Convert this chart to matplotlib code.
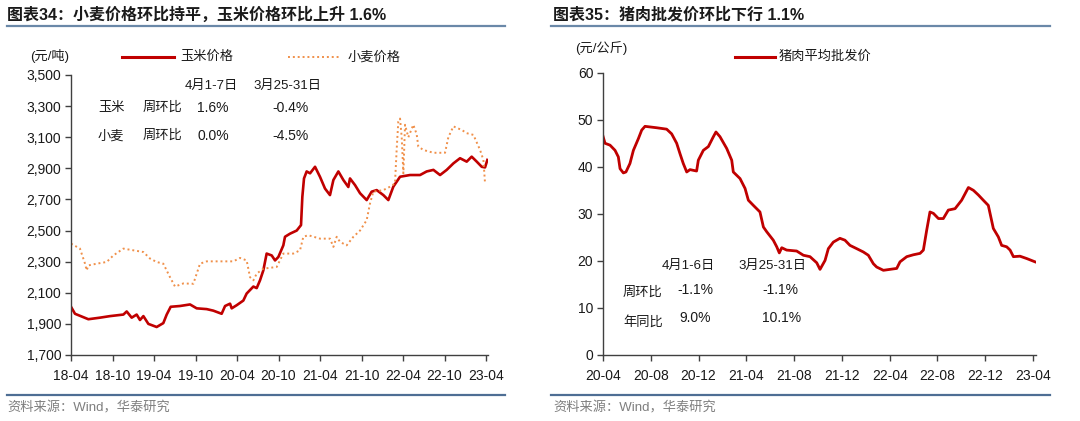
import matplotlib
matplotlib.use("Agg")
import matplotlib.pyplot as plt
from matplotlib.lines import Line2D

plt.rcParams['font.family'] = ['Liberation Sans', 'Noto Sans CJK SC', 'DejaVu Sans']
CJK = ['Liberation Sans', 'Noto Sans CJK SC', 'DejaVu Sans']

# ---------------- data: left chart (corn / wheat, 元/吨) ----------------
corn_t = [2018.250, 2018.298, 2018.459, 2018.599, 2018.720, 2018.881, 2018.921, 2018.981,
          2019.041, 2019.081, 2019.122, 2019.182, 2019.282, 2019.362, 2019.403, 2019.451,
          2019.563, 2019.684, 2019.764, 2019.885, 2019.965, 2020.065, 2020.106, 2020.166,
          2020.186, 2020.246, 2020.326, 2020.366, 2020.447, 2020.487, 2020.527, 2020.567,
          2020.607, 2020.668, 2020.708, 2020.748, 2020.808, 2020.828, 2020.889, 2020.969,
          2021.021, 2021.037, 2021.057, 2021.089, 2021.130, 2021.190, 2021.250, 2021.310,
          2021.370, 2021.411, 2021.471, 2021.531, 2021.591, 2021.611, 2021.672, 2021.732,
          2021.812, 2021.872, 2021.933, 2022.013, 2022.073, 2022.133, 2022.214, 2022.334,
          2022.455, 2022.535, 2022.616, 2022.696, 2022.776, 2022.857, 2022.937, 2023.017,
          2023.077, 2023.138, 2023.198, 2023.238, 2023.266]
corn_v = [2010, 1965, 1930, 1940, 1950, 1960, 1980, 1940,
          1960, 1925, 1950, 1900, 1880, 1905, 1960, 2010,
          2015, 2025, 2000, 1995, 1985, 1965, 2015, 2030,
          2000, 2020, 2050, 2095, 2140, 2130, 2180, 2244,
          2352, 2340, 2308, 2330, 2405, 2460, 2480, 2500,
          2535, 2717, 2835, 2880, 2868, 2910, 2845, 2770,
          2728, 2825, 2880, 2825, 2780, 2835, 2792, 2740,
          2696, 2750, 2760, 2728, 2696, 2782, 2846, 2857,
          2857, 2880, 2890, 2857, 2890, 2932, 2965, 2943,
          2975, 2943, 2910, 2906, 2954]

wheat_t = [2018.250, 2018.358, 2018.419, 2018.439, 2018.459, 2018.559, 2018.680, 2018.760,
           2018.881, 2019.001, 2019.122, 2019.202, 2019.282, 2019.362, 2019.443, 2019.503,
           2019.603, 2019.724, 2019.804, 2019.885, 2020.206, 2020.286, 2020.366, 2020.407,
           2020.447, 2020.487, 2020.567, 2020.728, 2020.808, 2020.928, 2021.009, 2021.049,
           2021.109, 2021.250, 2021.370, 2021.411, 2021.451, 2021.491, 2021.571, 2021.652,
           2021.732, 2021.812, 2021.852, 2021.892, 2022.013, 2022.093, 2022.153, 2022.173,
           2022.193, 2022.214, 2022.234, 2022.254, 2022.274, 2022.314, 2022.374, 2022.414,
           2022.434, 2022.495, 2022.616, 2022.756, 2022.796, 2022.857, 2022.897, 2022.957,
           2023.017, 2023.098, 2023.178, 2023.218, 2023.238]
wheat_v = [2416, 2384, 2287, 2244, 2276, 2287, 2298, 2340,
           2384, 2373, 2362, 2320, 2298, 2287, 2200, 2140,
           2160, 2158, 2287, 2302, 2302, 2324, 2308, 2200,
           2180, 2223, 2255, 2266, 2352, 2352, 2373, 2460,
           2470, 2448, 2448, 2395, 2460, 2427, 2405, 2460,
           2500, 2567, 2674, 2750, 2760, 2782, 2803, 3018,
           3200, 3220, 3100, 2868, 3180, 3100, 3180, 3120,
           3040, 3018, 3000, 3000, 3100, 3170, 3160, 3147,
           3126, 3115, 3018, 2954, 2803]

left_xticks = [2018.25, 2018.75, 2019.25, 2019.75, 2020.25, 2020.75,
               2021.25, 2021.75, 2022.25, 2022.75, 2023.25]
left_xlabels = ['18-04', '18-10', '19-04', '19-10', '20-04', '20-10',
                '21-04', '21-10', '22-04', '22-10', '23-04']
left_yticks = [1700, 1900, 2100, 2300, 2500, 2700, 2900, 3100, 3300, 3500]

# ---------------- data: right chart (pork, 元/公斤) ----------------
pork_t = [2020.250, 2020.264, 2020.299, 2020.334, 2020.357, 2020.369, 2020.392, 2020.410,
          2020.438, 2020.462, 2020.497, 2020.520, 2020.543, 2020.624, 2020.694, 2020.729,
          2020.764, 2020.787, 2020.810, 2020.834, 2020.857, 2020.903, 2020.915, 2020.950,
          2020.985, 2021.020, 2021.038, 2021.066, 2021.113, 2021.148, 2021.159, 2021.206,
          2021.241, 2021.264, 2021.299, 2021.345, 2021.369, 2021.392, 2021.438, 2021.462,
          2021.480, 2021.497, 2021.531, 2021.601, 2021.648, 2021.694, 2021.741, 2021.764,
          2021.799, 2021.822, 2021.857, 2021.903, 2021.938, 2021.973, 2022.020, 2022.066,
          2022.101, 2022.136, 2022.159, 2022.206, 2022.252, 2022.299, 2022.322, 2022.369,
          2022.415, 2022.462, 2022.485, 2022.508, 2022.531, 2022.555, 2022.590, 2022.624,
          2022.659, 2022.706, 2022.752, 2022.799, 2022.834, 2022.869, 2022.903, 2022.938,
          2022.973, 2023.008, 2023.031, 2023.066, 2023.090, 2023.113, 2023.159, 2023.206,
          2023.264]
pork_v = [46.5, 45.0, 44.6, 43.5, 42.1, 39.6, 38.7, 38.9,
          40.7, 43.5, 46.0, 47.8, 48.6, 48.3, 48.0, 47.0,
          45.0, 42.8, 40.7, 38.9, 39.4, 39.1, 41.4, 43.5,
          44.3, 46.4, 47.4, 46.4, 43.9, 41.4, 38.9, 37.5,
          35.4, 32.9, 31.8, 30.4, 27.2, 26.2, 24.4, 23.0,
          21.7, 22.8, 22.3, 22.1, 21.2, 20.9, 19.6, 18.2,
          20.1, 22.6, 24.0, 24.8, 24.4, 23.3, 22.6, 21.9,
          21.2, 19.4, 18.7, 18.0, 18.2, 18.4, 19.8, 20.9,
          21.3, 21.6, 22.3, 26.5, 30.4, 30.1, 29.0, 29.0,
          30.8, 31.1, 32.9, 35.6, 35.0, 34.0, 32.9, 31.8,
          26.9, 25.1, 23.3, 23.0, 22.3, 20.9, 21.0, 20.5,
          19.8]

right_xticks = [2020.25, 2020.5833, 2020.9167, 2021.25, 2021.5833, 2021.9167,
                2022.25, 2022.5833, 2022.9167, 2023.25]
right_xlabels = ['20-04', '20-08', '20-12', '21-04', '21-08', '21-12',
                 '22-04', '22-08', '22-12', '23-04']
right_yticks = [0, 10, 20, 30, 40, 50, 60]

# ---------------- styling ----------------
W, H = 1080, 421
RED = '#C00000'
ORANGE = '#F0904A'
RULE = '#4E6E94'
GRAY = '#7F7F7F'
TXT = '#1A1A1A'

fig = plt.figure(figsize=(W / 100, H / 100), dpi=100)


def fx(px):
    return px / W


def fy(py):
    return 1 - py / H


def style_axes(ax):
    for s in ('top', 'right'):
        ax.spines[s].set_visible(False)
    for s in ('left', 'bottom'):
        ax.spines[s].set_color('#404040')
        ax.spines[s].set_linewidth(1.0)
    ax.tick_params(direction='out', length=4, width=1.0, color='#404040',
                   labelsize=10, labelcolor=TXT, pad=3)


# left axes
axL = fig.add_axes([fx(71), fy(355), fx(487.7) - fx(71), fy(75) - fy(355)])
axL.plot(corn_t, corn_v, color=RED, lw=1.9, solid_joinstyle='round')
axL.plot(wheat_t, wheat_v, color=ORANGE, lw=1.4, linestyle=(0, (1, 1.5)))
axL.set_xlim(2018.25, 2023.27)
axL.set_ylim(1700, 3500)
axL.set_xticks(left_xticks)
axL.set_xticklabels(left_xlabels)
axL.set_yticks(left_yticks)
axL.set_yticklabels([f'{v:,}' for v in left_yticks])
style_axes(axL)
axL.tick_params(axis='x', pad=6)

# right axes
axR = fig.add_axes([fx(603), fy(355), fx(1035.9) - fx(603), fy(72.7) - fy(355)])
axR.plot(pork_t, pork_v, color=RED, lw=2.0)
axR.set_xlim(2020.25, 2023.27)
axR.set_ylim(0, 60)
axR.set_xticks(right_xticks)
axR.set_xticklabels(right_xlabels)
axR.set_yticks(right_yticks)
style_axes(axR)
axR.tick_params(axis='x', pad=6)

# titles and rules
fig.text(fx(7), fy(15), '图表34：小麦价格环比持平，玉米价格环比上升 1.6%', family=CJK,
         fontsize=11.5, fontweight='bold', va='center', ha='left', color=TXT)
fig.text(fx(553), fy(15), '图表35：猪肉批发价环比下行 1.1%', family=CJK,
         fontsize=11.5, fontweight='bold', va='center', ha='left', color=TXT)
for x0, x1 in ((7, 505), (551, 1050)):
    fig.add_artist(Line2D([fx(x0), fx(x1)], [fy(26), fy(26)], color='#6A88A8', lw=1.6))
    fig.add_artist(Line2D([fx(x0), fx(x1)], [fy(394.5), fy(394.5)], color=RULE, lw=1.6))

fig.text(fx(7), fy(408), '资料来源：Wind，华泰研究', family=CJK, fontsize=9.5,
         color=GRAY, va='center', ha='left')
fig.text(fx(553), fy(408), '资料来源：Wind，华泰研究', family=CJK, fontsize=9.5,
         color=GRAY, va='center', ha='left')

# unit labels
fig.text(fx(30), fy(56), '(元/吨)', family=CJK, fontsize=9.5, color=TXT, va='center', ha='left')
fig.text(fx(575), fy(48), '(元/公斤)', family=CJK, fontsize=9.5, color=TXT, va='center', ha='left')

# legends (manual)
fig.add_artist(Line2D([fx(122), fx(174)], [fy(57), fy(57)], color=RED, lw=2.2))
fig.text(fx(180), fy(57), '玉米价格', family=CJK, fontsize=9.5, color=TXT, va='center')
fig.add_artist(Line2D([fx(288), fx(340)], [fy(57), fy(57)], color=ORANGE, lw=1.4,
                      linestyle=(0, (1, 1.5))))
fig.text(fx(348), fy(57), '小麦价格', family=CJK, fontsize=9.5, color=TXT, va='center')
fig.add_artist(Line2D([fx(735), fx(775)], [fy(57), fy(57)], color=RED, lw=2.2))
fig.text(fx(779), fy(57), '猪肉平均批发价', family=CJK, fontsize=9.5, color=TXT, va='center')

# annotation tables
def t(x, y, s, fs=9.5):
    fig.text(fx(x), fy(y), s, family=CJK, fontsize=fs, color=TXT, va='center', ha='left')

t(185, 86, '4月1-7日')
t(253, 86, '3月25-31日')
t(98, 108, '玉米')
t(143, 108, '周环比')
t(197, 108, '1.6%', 10)
t(272, 108, '-0.4%', 10)
t(98, 136, '小麦')
t(143, 136, '周环比')
t(197, 136, '0.0%', 10)
t(272, 136, '-4.5%', 10)

t(662, 266, '4月1-6日')
t(738, 266, '3月25-31日')
t(623, 293, '周环比')
t(677, 290, '-1.1%', 10)
t(762, 290, '-1.1%', 10)
t(623, 322, '年同比')
t(679, 318, '9.0%', 10)
t(762, 318, '10.1%', 10)

fig.savefig('out.png', dpi=100)
